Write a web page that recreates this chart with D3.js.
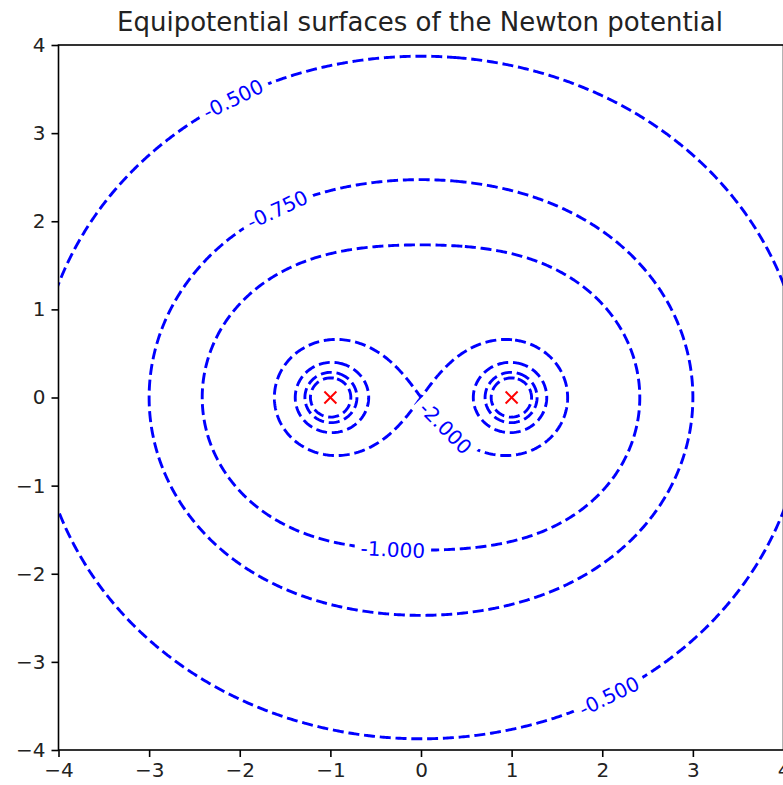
<!DOCTYPE html>
<html>
<head>
<meta charset="utf-8">
<script src="https://cdn.jsdelivr.net/npm/d3@7"></script>
<style>
  body { margin: 0; background: #fff; }
  text { font-family: "DejaVu Sans", sans-serif; }
</style>
</head>
<body>
<svg width="783" height="785"></svg>
<script>
// point masses (position, mass)
const massX = [-1, 1];
const massY = [0, 0];
const massM = [1, 1];

// contour levels of the potential
const levels = [-5, -4, -3, -2, -1, -0.75, -0.5];

// where clabel put its labels (data coords, snapped to the curve below)
const labelLevel = [-0.5, -0.75, -1, -2, -0.5];
const labelX = [-2.1, -1.61, -0.31, 0.29, 2.05];
const labelY = [3.45, 2.18, -1.71, -0.32, -3.35];

const xTicks = [-4, -3, -2, -1, 0, 1, 2, 3, 4];
const yTicks = [-4, -3, -2, -1, 0, 1, 2, 3, 4];

const svg = d3.select('svg');
const width = 783, height = 785;

const x = d3.scaleLinear([-4, 4], [58.5, 783.5]);
const y = d3.scaleLinear([-4, 4], [750, 45]);

// sample the potential on a grid a bit larger than the view so rings close
const n = 500, lo = -5, hi = 5;
const step = (hi - lo) / (n - 1);
const values = new Float64Array(n * n);
for (let j = 0; j < n; ++j) {
  for (let i = 0; i < n; ++i) {
    const px = lo + i * step, py = lo + j * step;
    let v = 0;
    for (let k = 0; k < massX.length; ++k) {
      v += massM[k] / Math.hypot(px - massX[k], py - massY[k]);
    }
    values[j * n + i] = Math.min(v, 1e6); // -V, so rings are closed blobs
  }
}

const contours = d3.contours()
  .size([n, n])
  .thresholds(levels.map(l => -l))(values);

const toPx = (cx, cy) => [x(lo + (cx - 0.5) * step), y(lo + (cy - 0.5) * step)];
const path = d3.geoPath(d3.geoTransform({
  point(cx, cy) { const p = toPx(cx, cy); this.stream.point(p[0], p[1]); }
}));

svg.append('defs').append('clipPath').attr('id', 'plot')
  .append('rect')
  .attr('x', x(-4)).attr('y', y(4))
  .attr('width', x(4) - x(-4)).attr('height', y(-4) - y(4));

const mask = svg.select('defs').append('mask').attr('id', 'gaps')
  .attr('maskUnits', 'userSpaceOnUse')
  .attr('x', 0).attr('y', 0).attr('width', width).attr('height', height);
mask.append('rect').attr('width', width).attr('height', height).attr('fill', '#fff');

const plot = svg.append('g').attr('clip-path', 'url(#plot)');

plot.append('g')
  .attr('mask', 'url(#gaps)')
  .selectAll('path')
  .data(contours)
  .join('path')
  .attr('d', path)
  .attr('fill', 'none')
  .attr('stroke', '#0000ff')
  .attr('stroke-width', 2.9)
  .attr('stroke-dasharray', '11,4.8');

// contour labels
labelLevel.forEach((lev, idx) => {
  const c = contours.find(d => Math.abs(d.value + lev) < 1e-9);
  const tx = x(labelX[idx]), ty = y(labelY[idx]);
  let best = null, bestD = Infinity;
  c.coordinates.forEach(poly => poly.forEach(ring => {
    const pts = ring.map(p => toPx(p[0], p[1]));
    pts.forEach((p, i) => {
      const d = (p[0] - tx) ** 2 + (p[1] - ty) ** 2;
      if (d < bestD) { bestD = d; best = { pts, i }; }
    });
  }));
  const m = best.pts.length;
  const p = best.pts[best.i];
  const a = best.pts[(best.i - 4 + m) % m], b = best.pts[(best.i + 4) % m];
  let ang = Math.atan2(b[1] - a[1], b[0] - a[0]) * 180 / Math.PI;
  if (ang > 90) ang -= 180;
  if (ang < -90) ang += 180;

  const t = svg.append('text')
    .attr('transform', `translate(${p[0]},${p[1]}) rotate(${ang})`)
    .attr('text-anchor', 'middle')
    .attr('dy', '0.36em')
    .attr('font-size', 20)
    .attr('fill', '#0000ff')
    .text(d3.format('.3f')(lev).replace('\u2212', '-'));
  const w = t.node().getComputedTextLength() + 12;
  mask.append('rect')
    .attr('transform', `translate(${p[0]},${p[1]}) rotate(${ang})`)
    .attr('x', -w / 2).attr('y', -11)
    .attr('width', w).attr('height', 22)
    .attr('fill', '#000');
});

// the masses
const marks = svg.append('g').attr('stroke', '#ff0000').attr('stroke-width', 2);
massX.forEach((mx, k) => {
  const cx = x(mx), cy = y(massY[k]), r = 6;
  marks.append('line').attr('x1', cx - r).attr('y1', cy - r).attr('x2', cx + r).attr('y2', cy + r);
  marks.append('line').attr('x1', cx - r).attr('y1', cy + r).attr('x2', cx + r).attr('y2', cy - r);
});

// axes
const xAxis = svg.append('g')
  .attr('transform', `translate(0,${y(-4)})`)
  .call(d3.axisBottom(x).tickValues(xTicks).tickSize(7).tickPadding(6).tickFormat(d3.format('d')));
const yAxis = svg.append('g')
  .attr('transform', `translate(${x(-4)},0)`)
  .call(d3.axisLeft(y).tickValues(yTicks).tickSize(7).tickPadding(6).tickFormat(d3.format('d')));
[xAxis, yAxis].forEach(g => {
  g.select('.domain').remove();
  g.selectAll('.tick line').attr('stroke', '#000').attr('stroke-width', 1.6);
  g.selectAll('.tick text').attr('font-size', 20).attr('fill', '#222')
    .style('font-family', '"DejaVu Sans", sans-serif');
});

svg.append('rect')
  .attr('x', x(-4)).attr('y', y(4))
  .attr('width', x(4) - x(-4)).attr('height', y(-4) - y(4))
  .attr('fill', 'none')
  .attr('stroke', '#000')
  .attr('stroke-width', 1.6);

svg.append('text')
  .attr('x', (x(-4) + x(4)) / 2 - 1)
  .attr('y', 31)
  .attr('text-anchor', 'middle')
  .attr('font-size', 26)
  .attr('fill', '#222')
  .text('Equipotential surfaces of the Newton potential');
</script>
</body>
</html>
